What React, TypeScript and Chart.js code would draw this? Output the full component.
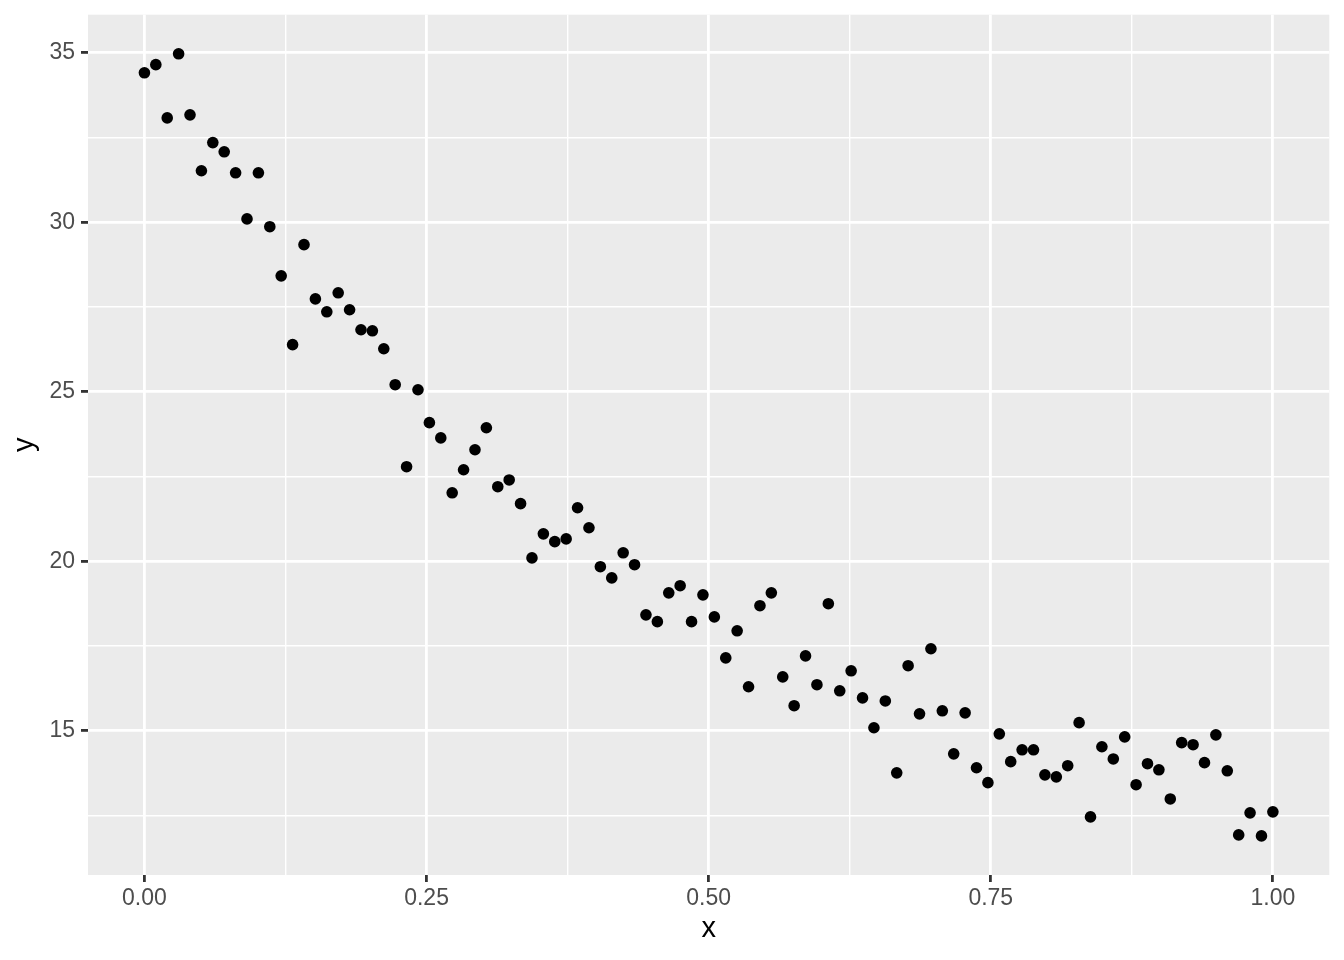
import React, { useEffect, useRef } from "react";
import { Chart, registerables } from "chart.js";

Chart.register(...registerables);

const yValues: number[] = [
  34.41, 34.65, 33.08, 34.97, 33.17, 31.52, 32.35, 32.08, 31.46, 30.1,
  31.46, 29.87, 28.42, 26.39, 29.34, 27.74, 27.36, 27.92, 27.42, 26.83,
  26.8, 26.27, 25.21, 22.79, 25.06, 24.09, 23.64, 22.02, 22.7, 23.29,
  23.94, 22.2, 22.4, 21.7, 20.1, 20.81, 20.58, 20.66, 21.58, 20.99,
  19.84, 19.51, 20.25, 19.9, 18.42, 18.22, 19.07, 19.28, 18.22, 19.01,
  18.36, 17.15, 17.95, 16.3, 18.69, 19.07, 16.59, 15.74, 17.21, 16.36,
  18.75, 16.18, 16.77, 15.97, 15.09, 15.88, 13.76, 16.92, 15.5, 17.42,
  15.59, 14.32, 15.53, 13.91, 13.47, 14.91, 14.09, 14.44, 14.44, 13.7,
  13.64, 13.97, 15.24, 12.46, 14.53, 14.17, 14.82, 13.41, 14.03, 13.85,
  12.99, 14.65, 14.59, 14.06, 14.88, 13.82, 11.93, 12.58, 11.9, 12.61,
];
const xValues: number[] = yValues.map((_, i) => i / 99);

const xMajorTicks: number[] = [0, 0.25, 0.5, 0.75, 1];
const xMinorTicks: number[] = [0.125, 0.375, 0.625, 0.875];
const yMajorTicks: number[] = [15, 20, 25, 30, 35];
const yMinorTicks: number[] = [12.5, 17.5, 22.5, 27.5, 32.5];

const xTitle = "x";
const yTitle = "y";

const FONT = "'Liberation Sans', Arial, Helvetica, sans-serif";

function expand(vals: number[]) {
  const mn = Math.min(...vals);
  const mx = Math.max(...vals);
  const pad = (mx - mn) * 0.05;
  return [mn - pad, mx + pad];
}

const panelBg = {
  id: "panelBg",
  beforeDraw(chart: any) {
    const { ctx, chartArea } = chart;
    ctx.save();
    ctx.fillStyle = "#EBEBEB";
    ctx.fillRect(chartArea.left, chartArea.top, chartArea.right - chartArea.left, chartArea.bottom - chartArea.top);
    ctx.restore();
  },
};

export default function App() {
  const ref = useRef<HTMLCanvasElement | null>(null);

  useEffect(() => {
    document.body.style.margin = "0";
    if (!ref.current) return;
    const [xMin, xMax] = expand(xValues);
    const [yMin, yMax] = expand(yValues);
    const xMajorSet = new Set(xMajorTicks);
    const yMajorSet = new Set(yMajorTicks);
    const isMajor = (set: Set<number>, v: number) => set.has(v);

    const gridOpts = (set: Set<number>) => ({
      color: "#FFFFFF",
      lineWidth: (c: any) => (c.tick && isMajor(set, c.tick.value) ? 2.8 : 1.4),
      tickColor: (c: any) => (c.tick && isMajor(set, c.tick.value) ? "#333333" : "rgba(0,0,0,0)"),
      tickWidth: (c: any) => (c.tick && isMajor(set, c.tick.value) ? 2.8 : 0),
      tickLength: 7,
      drawTicks: true,
      drawOnChartArea: true,
    });

    const chart = new Chart(ref.current, {
      type: "scatter",
      data: {
        datasets: [
          {
            data: xValues.map((x, i) => ({ x, y: yValues[i] })),
            backgroundColor: "#000000",
            borderWidth: 0,
            pointRadius: 5.8,
            pointHoverRadius: 5.8,
          },
        ],
      },
      options: {
        animation: false,
        responsive: false,
        devicePixelRatio: 1,
        layout: { padding: { top: 14.7, right: 14.7, left: 0, bottom: 0 } },
        plugins: { legend: { display: false }, tooltip: { enabled: false } },
        scales: {
          x: {
            type: "linear",
            min: xMin,
            max: xMax,
            border: { display: false },
            grid: gridOpts(xMajorSet) as any,
            afterBuildTicks: (s: any) => {
              s.ticks = [...xMajorTicks, ...xMinorTicks].sort((a, b) => a - b).map((v) => ({ value: v }));
            },
            afterFit: (s: any) => {
              s.height = 85;
              s.paddingLeft = 0;
              s.paddingRight = 0;
            },
            ticks: {
              autoSkip: false,
              maxRotation: 0,
              padding: 3,
              color: "#4D4D4D",
              font: { family: FONT, size: 23 },
              callback: (v: any) => (xMajorSet.has(Number(v)) ? Number(v).toFixed(2) : ""),
            },
            title: {
              display: true,
              text: xTitle,
              color: "#000000",
              font: { family: FONT, size: 29 },
              padding: { top: 0, bottom: 13.6 },
            },
          },
          y: {
            type: "linear",
            min: yMin,
            max: yMax,
            border: { display: false },
            grid: gridOpts(yMajorSet) as any,
            afterBuildTicks: (s: any) => {
              s.ticks = [...yMajorTicks, ...yMinorTicks].sort((a, b) => a - b).map((v) => ({ value: v }));
            },
            afterFit: (s: any) => {
              s.width = 88;
              s.paddingTop = 0;
              s.paddingBottom = 0;
            },
            ticks: {
              autoSkip: false,
              padding: 6,
              color: "#4D4D4D",
              font: { family: FONT, size: 23 },
              callback: (v: any) => (yMajorSet.has(Number(v)) ? String(v) : ""),
            },
            title: {
              display: true,
              text: yTitle,
              color: "#000000",
              font: { family: FONT, size: 29 },
              padding: { top: 8, bottom: 0 },
            },
          },
        },
      },
      plugins: [panelBg],
    });
    return () => chart.destroy();
  }, []);

  return (
    <div style={{ width: 1344, height: 960 }}>
      <canvas ref={ref} width={1344} height={960} style={{ display: "block" }} />
    </div>
  );
}
